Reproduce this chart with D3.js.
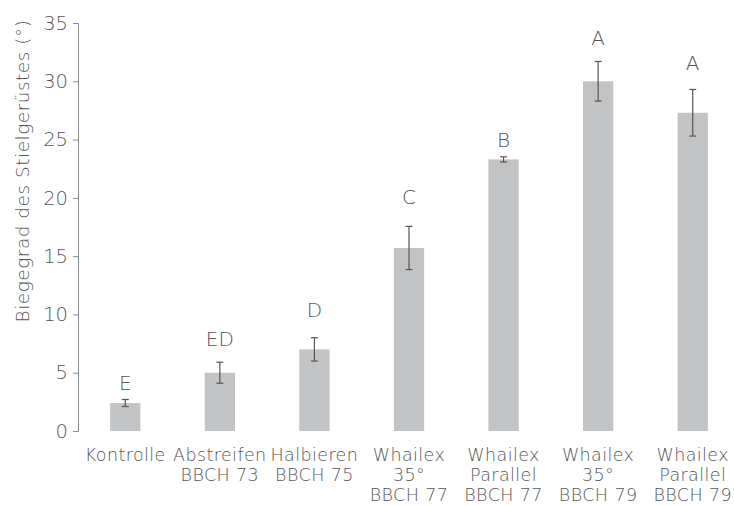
<!DOCTYPE html>
<html>
<head>
<meta charset="utf-8">
<script src="https://cdn.jsdelivr.net/npm/d3@7"></script>
<style>
  body { margin: 0; background: #fff; }
  svg text { font-family: "DejaVu Sans", sans-serif; font-weight: 200; fill: #555; }
</style>
</head>
<body>
<div id="chart_area"></div>
<script>
// data
var categories = [
    ["Kontrolle"],
    ["Abstreifen", "BBCH 73"],
    ["Halbieren", "BBCH 75"],
    ["Whailex", "35°", "BBCH 77"],
    ["Whailex", "Parallel", "BBCH 77"],
    ["Whailex", "35°", "BBCH 79"],
    ["Whailex", "Parallel", "BBCH 79"]
];
var means = [2.4, 5.0, 7.0, 15.7, 23.3, 30.0, 27.3];
var errors = [0.3, 0.9, 1.0, 1.85, 0.22, 1.7, 2.0];
var letters = ["E", "ED", "D", "C", "B", "A", "A"];
var letterAt = [3.5, 7.3, 9.8, 19.5, 24.4, 33.1, 31.0];
var yTicks = [0, 5, 10, 15, 20, 25, 30, 35];

var width = 734, height = 506;
var svg = d3.select("#chart_area")
    .append("svg")
    .attr("width", width)
    .attr("height", height);

var x = d3.scaleBand()
    .domain(d3.range(categories.length))
    .range([78, 740])
    .paddingInner(0.68)
    .paddingOuter(0.34);

var y = d3.scaleLinear()
    .domain([0, 35])
    .range([431, 23]);

// y axis
var yAxis = svg.append("g")
    .attr("transform", "translate(78,0)")
    .call(d3.axisLeft(y).tickValues(yTicks).tickSize(5).tickPadding(5));
yAxis.select(".domain").attr("stroke", "#8a8a8a");
yAxis.selectAll(".tick line").attr("stroke", "#8a8a8a");
yAxis.selectAll(".tick text")
    .attr("font-size", 19.5)
    .attr("font-family", null);

svg.append("text")
    .attr("transform", "translate(29,171) rotate(-90)")
    .attr("text-anchor", "middle")
    .attr("font-size", 18.5)
    .attr("letter-spacing", 0.5)
    .text("Biegegrad des Stielgerüstes (°)");

// bars
svg.selectAll("rect.bar")
    .data(means)
    .enter().append("rect")
    .attr("class", "bar")
    .attr("x", function(d, i){ return x(i); })
    .attr("width", x.bandwidth())
    .attr("y", function(d){ return y(d); })
    .attr("height", function(d){ return y(0) - y(d); })
    .attr("fill", "#c2c3c5");

// error bars
var eb = svg.selectAll("g.err")
    .data(means)
    .enter().append("g")
    .attr("class", "err")
    .attr("stroke", "#555")
    .attr("stroke-width", 1.2);

eb.append("line")
    .attr("x1", function(d, i){ return x(i) + x.bandwidth() / 2; })
    .attr("x2", function(d, i){ return x(i) + x.bandwidth() / 2; })
    .attr("y1", function(d, i){ return y(d + errors[i]); })
    .attr("y2", function(d, i){ return y(d - errors[i]); });
eb.append("line")
    .attr("x1", function(d, i){ return x(i) + x.bandwidth() / 2 - 3.5; })
    .attr("x2", function(d, i){ return x(i) + x.bandwidth() / 2 + 3.5; })
    .attr("y1", function(d, i){ return y(d + errors[i]); })
    .attr("y2", function(d, i){ return y(d + errors[i]); });
eb.append("line")
    .attr("x1", function(d, i){ return x(i) + x.bandwidth() / 2 - 3.5; })
    .attr("x2", function(d, i){ return x(i) + x.bandwidth() / 2 + 3.5; })
    .attr("y1", function(d, i){ return y(d - errors[i]); })
    .attr("y2", function(d, i){ return y(d - errors[i]); });

// significance letters
svg.selectAll("text.letter")
    .data(letters)
    .enter().append("text")
    .attr("class", "letter")
    .attr("x", function(d, i){ return x(i) + x.bandwidth() / 2; })
    .attr("y", function(d, i){ return y(letterAt[i]); })
    .attr("text-anchor", "middle")
    .attr("font-size", 20)
    .text(function(d){ return d; });

// category labels, one text per line
var lines = [];
categories.forEach(function(c, i){
    c.forEach(function(t, j){ lines.push({ i: i, j: j, t: t }); });
});
svg.selectAll("text.cat")
    .data(lines)
    .enter().append("text")
    .attr("class", "cat")
    .attr("text-anchor", "middle")
    .attr("font-size", 17.5)
    .attr("letter-spacing", 0.4)
    .attr("x", function(d){ return x(d.i) + x.bandwidth() / 2; })
    .attr("y", function(d){ return 461 + d.j * 20; })
    .text(function(d){ return d.t; });
</script>
</body>
</html>
